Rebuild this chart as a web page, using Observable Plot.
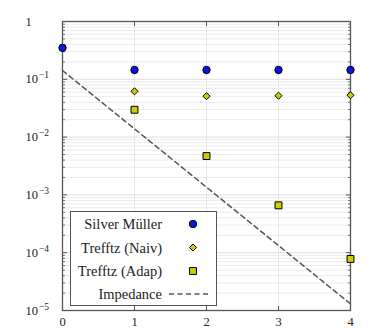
<!DOCTYPE html>
<html><head><meta charset="utf-8">
<script src="https://cdn.jsdelivr.net/npm/d3@7"></script>
<script src="https://cdn.jsdelivr.net/npm/@observablehq/plot@0.6"></script>
<style>
body{margin:0;background:#fff;}
#wrap{position:relative;width:374px;height:335px;}
</style>
</head><body><div id="wrap"></div>
<script>
// Data
const silverX = [0, 1, 2, 3, 4];
const silverY = [0.35, 0.145, 0.145, 0.145, 0.145];
const naivX = [1, 2, 3, 4];
const naivY = [0.062, 0.051, 0.052, 0.053];
const adapX = [1, 2, 3, 4];
const adapY = [0.0297, 0.0047, 0.00066, 0.000078];
const impX = [0, 4];
const impY = [0.142, 0.000013];
const xTicks = [0, 1, 2, 3, 4];
const xTickLabels = ["0", "1", "2", "3", "4"];
const yTicks = [1, 1e-1, 1e-2, 1e-3, 1e-4, 1e-5];
const yTickLabels = ["1", "10^-1", "10^-2", "10^-3", "10^-4", "10^-5"];
const seriesNames = ["Silver Müller", "Trefftz (Naiv)", "Trefftz (Adap)", "Impedance"];

const BLUE = "#0a14e6", YEL = "#cccc00", AX = "#555";
const FONT = "Liberation Serif";
const minorTicks = d3.scaleLog().domain([1e-5, 1]).ticks().filter(v => !yTicks.some(t => Math.abs(t - v) / v < 1e-9));

const line = (dx, dy) => ({draw(ctx) { ctx.moveTo(0, 0); ctx.lineTo(dx, dy); }});

const silver = silverX.map((x, i) => ({x, y: silverY[i]}));
const naiv = naivX.map((x, i) => ({x, y: naivY[i]}));
const adap = adapX.map((x, i) => ({x, y: adapY[i]}));
const imp = impX.map((x, i) => ({x, y: impY[i]}));

const plot = Plot.plot({
  width: 374, height: 335,
  marginLeft: 62, marginRight: 24, marginTop: 21, marginBottom: 25,
  style: {fontFamily: FONT, fontSize: "12px", color: "#222"},
  x: {domain: [0, 4], axis: null},
  y: {type: "log", domain: [1e-5, 1], axis: null},
  marks: [
    Plot.ruleY(minorTicks, {y: d => d, stroke: "#e6e6e6", strokeWidth: 0.8}),
    Plot.ruleY(yTicks, {y: d => d, stroke: "#d9d9d9", strokeWidth: 0.9}),
    Plot.ruleX(xTicks.slice(1, 4), {x: d => d, stroke: "#e3e3e3", strokeWidth: 0.9}),
    // inward ticks
    Plot.dot(yTicks, {y: d => d, frameAnchor: "left", symbol: line(4.5, 0), stroke: AX, fill: "none", strokeWidth: 1}),
    Plot.dot(yTicks, {y: d => d, frameAnchor: "right", symbol: line(-4.5, 0), stroke: AX, fill: "none", strokeWidth: 1}),
    Plot.dot(minorTicks, {y: d => d, frameAnchor: "left", symbol: line(2.5, 0), stroke: AX, fill: "none", strokeWidth: 0.8}),
    Plot.dot(minorTicks, {y: d => d, frameAnchor: "right", symbol: line(-2.5, 0), stroke: AX, fill: "none", strokeWidth: 0.8}),
    Plot.dot(xTicks, {x: d => d, frameAnchor: "top", symbol: line(0, 4.5), stroke: AX, fill: "none", strokeWidth: 1}),
    Plot.dot(xTicks, {x: d => d, frameAnchor: "bottom", symbol: line(0, -4.5), stroke: AX, fill: "none", strokeWidth: 1}),
    Plot.frame({stroke: AX, strokeWidth: 1.3}),
    // series
    Plot.line(imp, {x: "x", y: "y", stroke: "#555", strokeWidth: 1.5, strokeDasharray: "5,3.5"}),
    Plot.dot(silver, {x: "x", y: "y", r: 3.7, fill: BLUE, stroke: "#000", strokeWidth: 1}),
    Plot.dot(naiv, {x: "x", y: "y", r: 3.2, symbol: "diamond2", fill: YEL, stroke: "#000", strokeWidth: 1}),
    Plot.dot(adap, {x: "x", y: "y", r: 3.9, symbol: "square", fill: YEL, stroke: "#000", strokeWidth: 1}),
    // tick labels
    Plot.text(yTicks, {y: d => d, text: (d, i) => yTickLabels[i], frameAnchor: "left", dx: -37, textAnchor: "start", fontSize: 12.5, fontFamily: FONT, fill: "#222"}),
    Plot.text(xTicks, {x: d => d, text: (d, i) => xTickLabels[i], frameAnchor: "bottom", dy: 15, fontSize: 12.5, fontFamily: FONT, fill: "#222"})
  ]
});

// superscripts
d3.select(plot).selectAll("text").each(function() {
  const t = this.textContent;
  const m = /^(\d+)\^(.+)$/.exec(t);
  if (m) {
    const s = d3.select(this);
    s.text("");
    s.append("tspan").text(m[1]);
    s.append("tspan").attr("dx", "1").attr("dy", "-5").attr("font-size", "9.5").text(m[2].replace("-", "\u2212"));
  }
});

const wrap = document.getElementById("wrap");
wrap.appendChild(plot);

// Legend overlay
const lg = d3.select(wrap).append("svg")
  .attr("width", 374).attr("height", 335)
  .style("position", "absolute").style("left", "0px").style("top", "0px")
  .attr("font-family", FONT);
lg.append("rect").attr("x", 70.5).attr("y", 211.5).attr("width", 146).attr("height", 94)
  .attr("fill", "#fff").attr("stroke", AX).attr("stroke-width", 1);
const rowsY = [224, 247.5, 271, 294];
seriesNames.forEach((n, i) => {
  lg.append("text").attr("x", 162).attr("y", rowsY[i]).attr("dy", "0.35em")
    .attr("text-anchor", "end").attr("font-size", 14.5).attr("font-family", FONT).attr("fill", "#222").text(n);
});
const mx = 193;
lg.append("circle").attr("cx", mx).attr("cy", rowsY[0]).attr("r", 3.7).attr("fill", BLUE).attr("stroke", "#000");
lg.append("path").attr("d", d3.symbol(d3.symbolDiamond2, Math.PI * 3.2 * 3.2)()).attr("transform", `translate(${mx},${rowsY[1]})`)
  .attr("fill", YEL).attr("stroke", "#000");
lg.append("path").attr("d", d3.symbol(d3.symbolSquare, Math.PI * 3.9 * 3.9)()).attr("transform", `translate(${mx},${rowsY[2]})`)
  .attr("fill", YEL).attr("stroke", "#000");
lg.append("line").attr("x1", 169).attr("x2", 208).attr("y1", rowsY[3]).attr("y2", rowsY[3])
  .attr("stroke", "#555").attr("stroke-width", 1.5).attr("stroke-dasharray", "5,3.5");
</script>
</body></html>
